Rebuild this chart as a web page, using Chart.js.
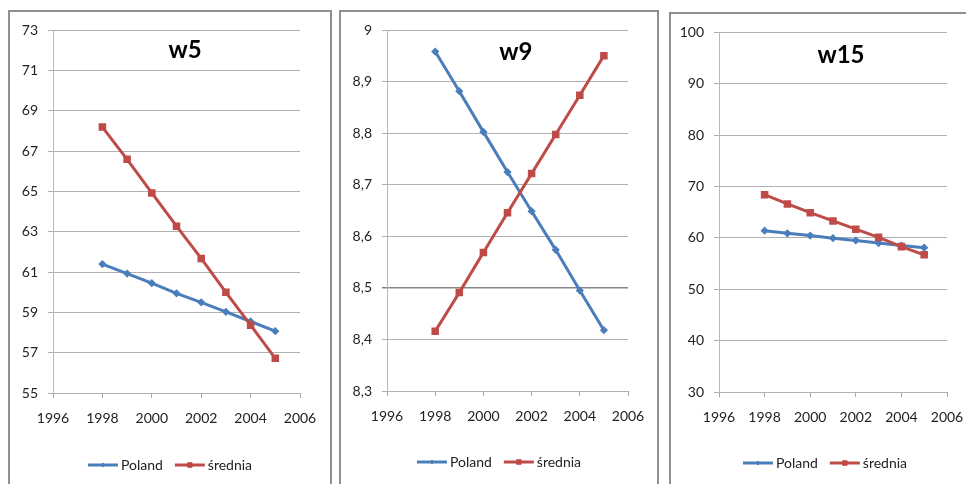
<!DOCTYPE html>
<html>
<head>
<meta charset="utf-8">
<script src="https://cdn.jsdelivr.net/npm/chart.js@4.4.1/dist/chart.umd.min.js"></script>
<style>
  html, body { margin: 0; padding: 0; width: 966px; height: 484px; overflow: hidden; background: #fff; }
  .panel { position: absolute; box-sizing: border-box; border: 2px solid #8f8f8f; background: #fff; }
  .panel canvas { position: absolute; left: 0; top: 0; }
</style>
</head>
<body>
<div class="panel" style="left:8px;top:10px;width:324px;height:500px"><canvas id="c5" width="320" height="472"></canvas></div>
<div class="panel" style="left:339px;top:10px;width:320px;height:500px"><canvas id="c9" width="316" height="472"></canvas></div>
<div class="panel" style="left:669px;top:12px;width:312px;height:500px"><canvas id="c15" width="308" height="470"></canvas></div>
<script>
// Years shared by all three panels
const years = [1998, 1999, 2000, 2001, 2002, 2003, 2004, 2005];
const xTickLabels = ['1996', '1998', '2000', '2002', '2004', '2006'];
const seriesNames = ['Poland', 'średnia'];

// w5
const w5Poland  = [61.4, 60.93, 60.45, 59.95, 59.5, 59.03, 58.55, 58.07];
const w5Srednia = [68.2, 66.6, 64.93, 63.28, 61.68, 60.0, 58.37, 56.72];
const w5YLabels = ['55', '57', '59', '61', '63', '65', '67', '69', '71', '73'];

// w9
const w9Poland  = [8.959, 8.882, 8.803, 8.725, 8.649, 8.574, 8.495, 8.418];
const w9Srednia = [8.416, 8.491, 8.569, 8.646, 8.722, 8.798, 8.874, 8.951];
const w9YLabels = ['8,3', '8,4', '8,5', '8,6', '8,7', '8,8', '8,9', '9'];

// w15
const w15Poland  = [61.4, 60.9, 60.45, 59.95, 59.5, 59.0, 58.5, 58.1];
const w15Srednia = [68.4, 66.6, 64.9, 63.3, 61.7, 60.1, 58.3, 56.7];
const w15YLabels = ['30', '40', '50', '60', '70', '80', '90', '100'];

const BLUE = '#4a7ebb';
const RED = '#be4b48';
const FONT = 'Lato';

// Bold heading drawn inside the plot area
const panelHeading = {
  id: 'panelHeading',
  afterDatasetsDraw(chart, args, opts) {
    const a = chart.chartArea;
    const ctx = chart.ctx;
    ctx.save();
    ctx.font = 'bold 24px ' + FONT;
    ctx.fillStyle = '#000';
    ctx.textAlign = 'center';
    ctx.textBaseline = 'middle';
    ctx.fillText(opts.text, a.left + a.width * 0.535, a.top + opts.dy);
    ctx.restore();
  }
};

// Legend with a short line segment and the series marker in its middle
const lineLegend = {
  id: 'lineLegend',
  afterDraw(chart, args, opts) {
    const ctx = chart.ctx;
    ctx.save();
    ctx.font = '14px ' + FONT;
    const segW = 30, txtGap = 3, itemGap = 12;
    const items = chart.data.datasets.map(ds => ({ ds, w: segW + txtGap + ctx.measureText(ds.label).width }));
    const total = items.reduce((s, it) => s + it.w, 0) + itemGap * (items.length - 1);
    let x = chart.width / 2 - total / 2;
    const y = opts.y;
    items.forEach(it => {
      const ds = it.ds;
      ctx.strokeStyle = ds.borderColor;
      ctx.lineWidth = 3;
      ctx.beginPath();
      ctx.moveTo(x, y);
      ctx.lineTo(x + segW, y);
      ctx.stroke();
      ctx.fillStyle = ds.pointBackgroundColor;
      ctx.strokeStyle = ds.pointBorderColor;
      ctx.lineWidth = 1;
      Chart.helpers.drawPoint(ctx, { pointStyle: ds.pointStyle, radius: ds.pointRadius, rotation: 0, borderWidth: 1 }, x + segW / 2, y);
      ctx.fillStyle = '#222';
      ctx.textAlign = 'left';
      ctx.textBaseline = 'middle';
      ctx.fillText(ds.label, x + segW + txtGap, y);
      x += it.w + itemGap;
    });
    ctx.restore();
  }
};

function makePanel(id, p) {
  const pts = vals => years.map((yr, i) => ({ x: yr, y: vals[i] }));
  return new Chart(document.getElementById(id), {
    type: 'line',
    data: {
      datasets: [
        {
          label: seriesNames[0], data: pts(p.poland), order: 1,
          borderColor: BLUE, borderWidth: 3, tension: 0,
          pointStyle: 'rectRot', pointRadius: 2,
          pointBackgroundColor: BLUE, pointBorderColor: BLUE
        },
        {
          label: seriesNames[1], data: pts(p.srednia), order: 0,
          borderColor: RED, borderWidth: 3, tension: 0,
          pointStyle: 'rect', pointRadius: 3.2,
          pointBackgroundColor: RED, pointBorderColor: RED
        }
      ]
    },
    options: {
      responsive: false,
      animation: false,
      events: [],
      layout: { padding: { left: 0, right: p.padRight, top: 18, bottom: p.padBottom } },
      plugins: {
        legend: { display: false },
        tooltip: { enabled: false },
        panelHeading: { text: p.title, dy: p.titleDy },
        lineLegend: { y: p.legendY }
      },
      scales: {
        x: {
          type: 'linear', min: 1996, max: 2006,
          afterFit: s => { s.height = 40; },
          ticks: {
            stepSize: 2, padding: 12, color: '#222', font: { family: FONT, size: 14 },
            callback: (v, i) => xTickLabels[i]
          },
          grid: { drawOnChartArea: false, drawTicks: true, tickLength: 5, color: '#a8a8a8' },
          border: { display: false }
        },
        y: {
          min: p.yMin, max: p.yMax,
          afterFit: s => { s.width = p.yWidth; },
          ticks: {
            stepSize: p.yStep, padding: 10, color: '#222', font: { family: FONT, size: 14 },
            callback: (v, i) => p.yLabels[i]
          },
          grid: {
            tickLength: 5,
            color: c => (p.strong !== null && c.tick && Math.abs(c.tick.value - p.strong) < 1e-6) ? '#858585' : '#b0b0b0',
            lineWidth: c => (p.strong !== null && c.tick && Math.abs(c.tick.value - p.strong) < 1e-6) ? 1.5 : 1
          },
          border: { color: '#b8b8b8', width: 1 }
        }
      }
    },
    plugins: [panelHeading, lineLegend]
  });
}

makePanel('c5', {
  title: 'w5', titleDy: 20, poland: w5Poland, srednia: w5Srednia,
  yMin: 55, yMax: 73, yStep: 2, yLabels: w5YLabels, strong: null,
  yWidth: 43, padRight: 30, padBottom: 51, legendY: 453
});
makePanel('c9', {
  title: 'w9', titleDy: 21.5, poland: w9Poland, srednia: w9Srednia,
  yMin: 8.3, yMax: 9, yStep: 0.1, yLabels: w9YLabels, strong: 8.5,
  yWidth: 46, padRight: 29, padBottom: 53, legendY: 450
});
makePanel('c15', {
  title: 'w15', titleDy: 23, poland: w15Poland, srednia: w15Srednia,
  yMin: 30, yMax: 100, yStep: 10, yLabels: w15YLabels, strong: null,
  yWidth: 48, padRight: 32, padBottom: 52, legendY: 449
});
</script>
</body>
</html>
